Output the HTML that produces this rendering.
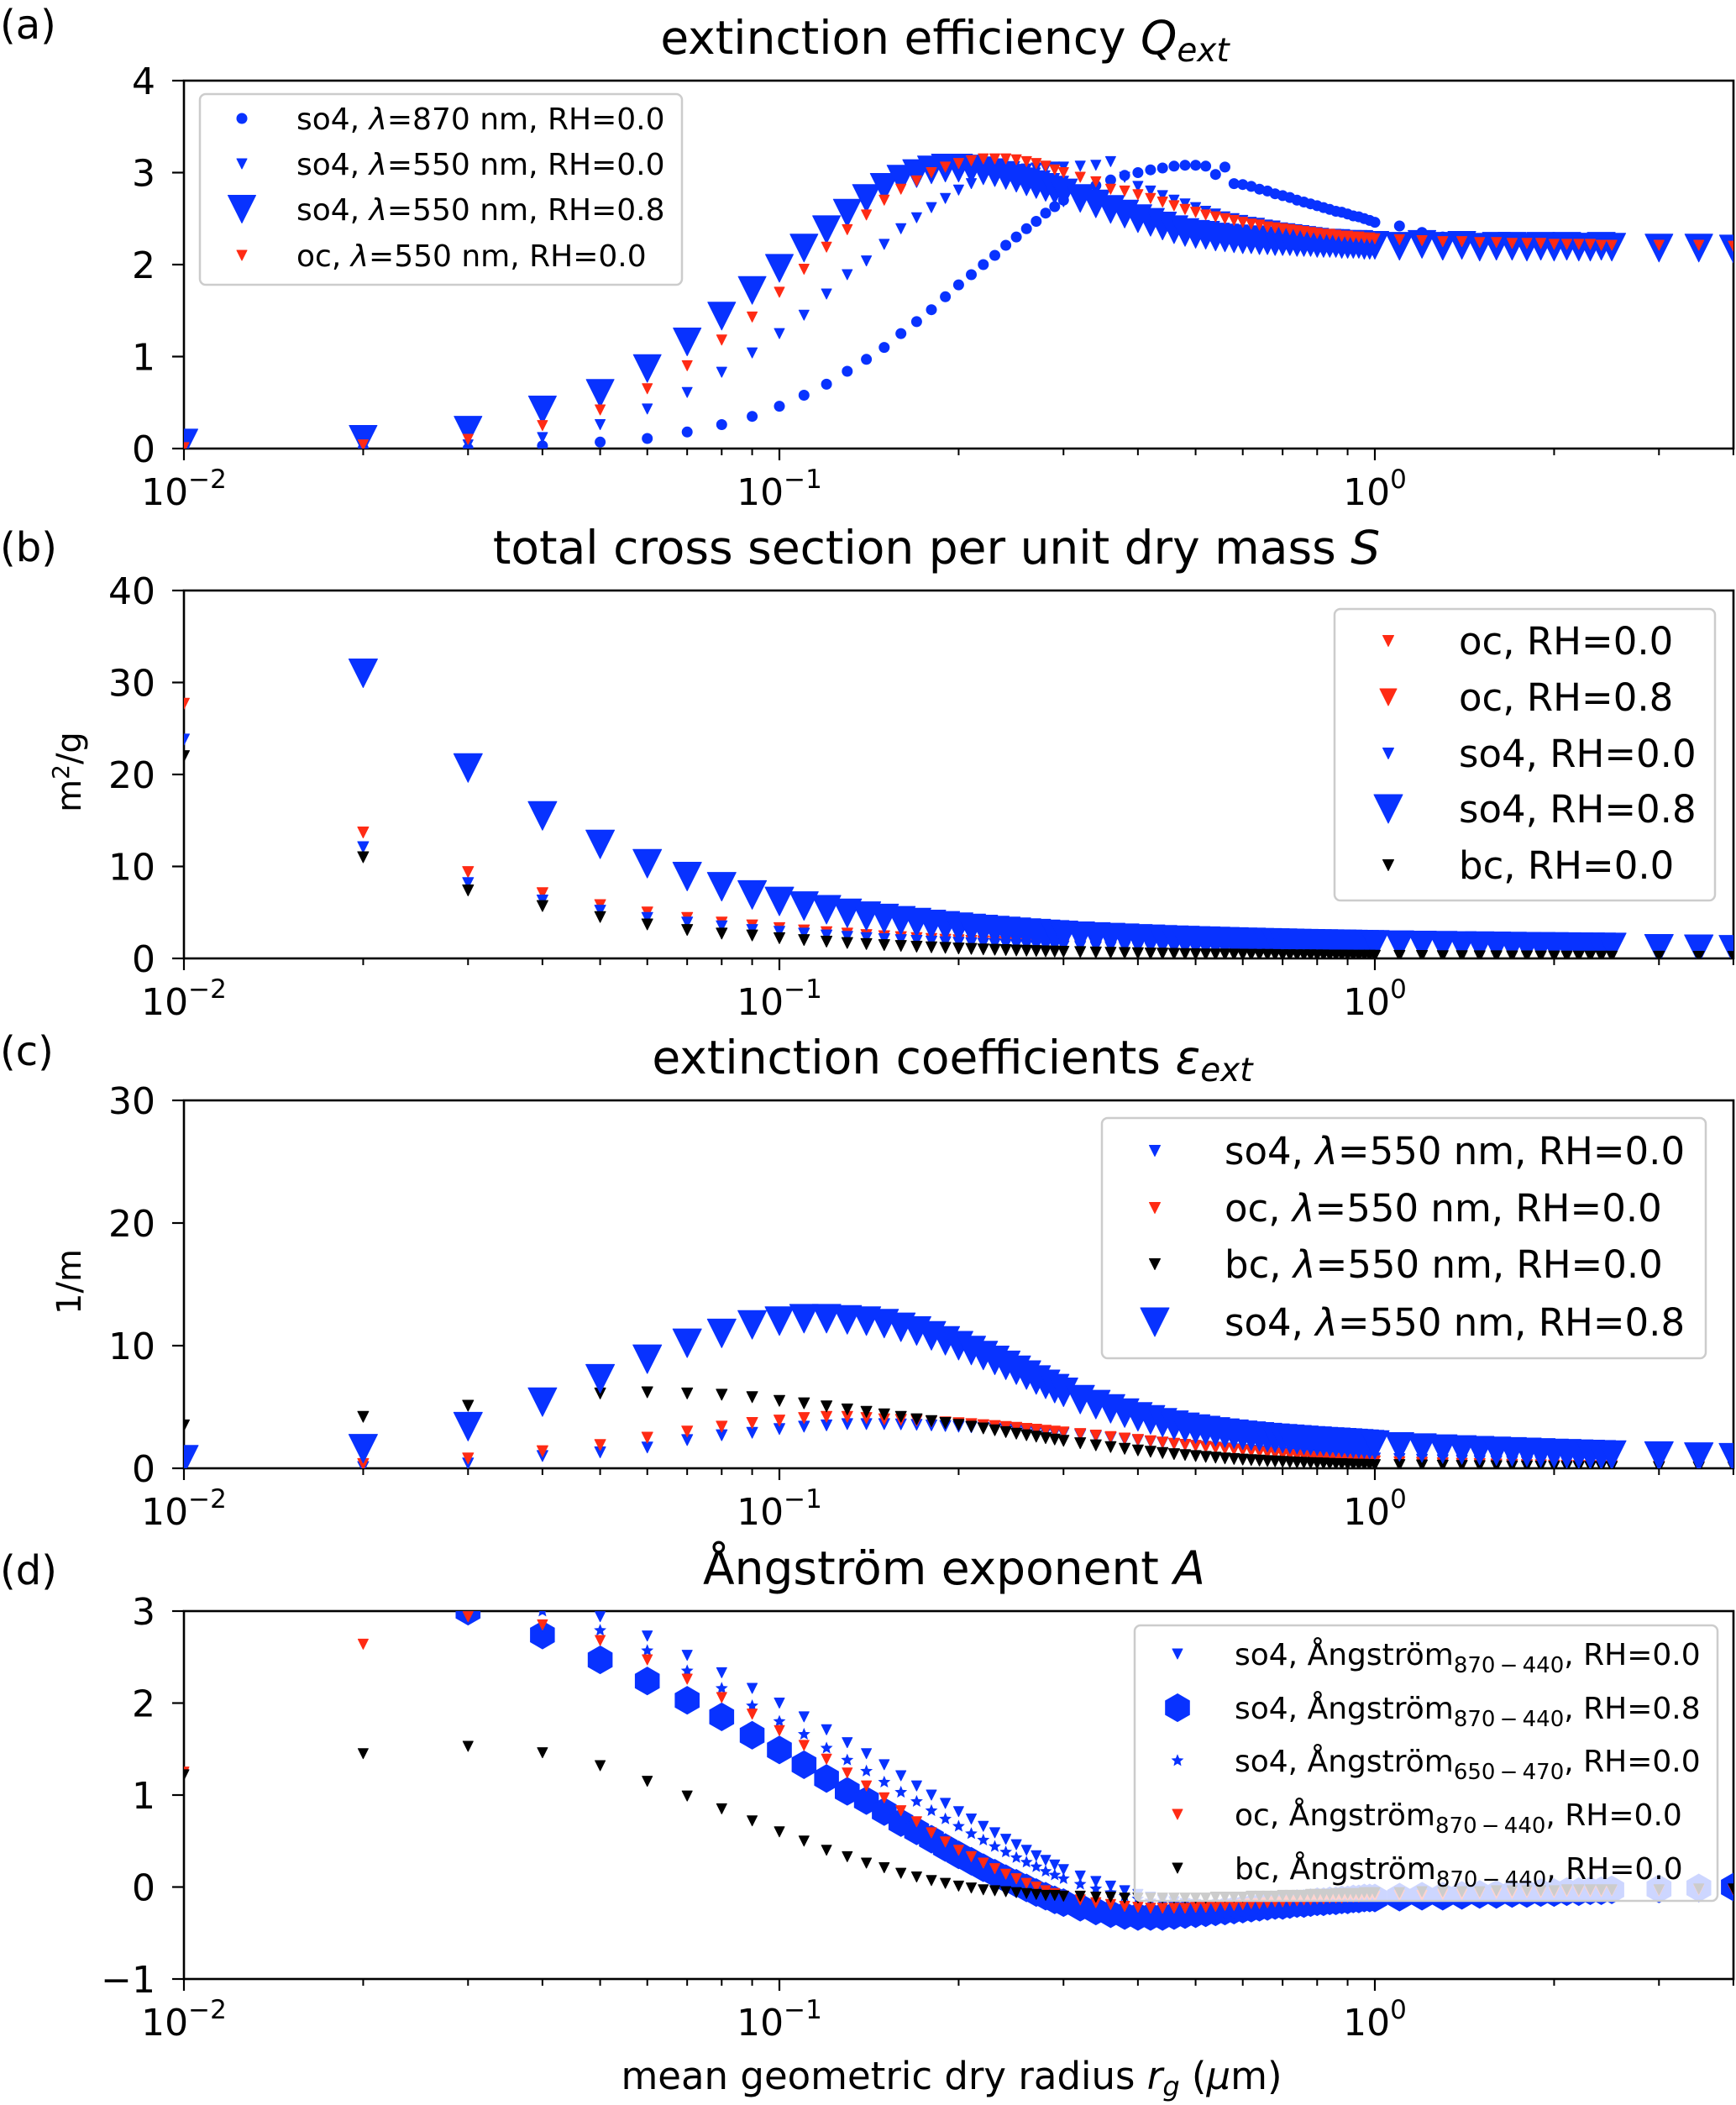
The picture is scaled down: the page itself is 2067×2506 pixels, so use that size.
<!DOCTYPE html>
<html><head><meta charset="utf-8"><title>Aerosol optical properties</title>
<style>
html,body{margin:0;padding:0;background:#fff;}
svg{display:block;font-family:"DejaVu Sans","Liberation Sans",sans-serif;}
</style></head>
<body>
<svg id="fig" xmlns="http://www.w3.org/2000/svg" width="2067" height="2506" viewBox="0 0 2067 2506">
<rect x="0" y="0" width="2067" height="2506" fill="#fff"/>
<defs>
<clipPath id="clipa"><rect x="219" y="96" width="1845" height="438"/></clipPath>
<clipPath id="clipb"><rect x="219" y="703" width="1845" height="438"/></clipPath>
<clipPath id="clipc"><rect x="219" y="1310" width="1845" height="438"/></clipPath>
<clipPath id="clipd"><rect x="219" y="1918" width="1845" height="438"/></clipPath>
</defs>
<g font-size="48" fill="#000">
<text x="0" y="46">(a)</text>
<text x="0" y="668">(b)</text>
<text x="0" y="1268">(c)</text>
<text x="0" y="1886">(d)</text>
</g>
<g font-size="55" fill="#000" text-anchor="middle">
<text x="1125" y="64">extinction efficiency <tspan font-style="italic">Q</tspan><tspan font-style="italic" font-size="39" dy="9">ext</tspan></text>
<text x="1115" y="671">total cross section per unit dry mass <tspan font-style="italic">S</tspan></text>
<text x="1134" y="1278">extinction coefficients <tspan font-style="italic">ε</tspan><tspan font-style="italic" font-size="39" dy="9">ext</tspan></text>
<text x="1136" y="1886">Ångström exponent <tspan font-style="italic">A</tspan></text>
</g>
<text transform="translate(96,919) rotate(-90)" font-size="40" text-anchor="middle">m<tspan font-size="28" dy="-14">2</tspan><tspan dy="14">/g</tspan></text>
<text transform="translate(96,1526) rotate(-90)" font-size="40" text-anchor="middle">1/m</text>
<text x="1133" y="2487" font-size="45" text-anchor="middle">mean geometric dry radius <tspan font-style="italic">r</tspan><tspan font-style="italic" font-size="32" dy="8">g</tspan><tspan dy="-8"> (</tspan><tspan font-style="italic">μ</tspan>m)</text>
<g id="axes"></g>
<g id="marks"></g>
<g id="legends"></g>
</svg>
<script>
// ---------- data ----------
const radius = [0.01,0.02,0.03,0.04,0.05,0.06,0.07,0.08,0.09,0.10,
0.11,0.12,0.13,0.14,0.15,0.16,0.17,0.18,0.19,0.20,0.21,0.22,0.23,0.24,0.25,0.26,0.27,0.28,0.29,0.30,
0.32,0.34,0.36,0.38,0.40,0.42,0.44,0.46,0.48,0.50,0.52,0.54,0.56,0.58,0.60,0.62,0.64,0.66,0.68,0.70,0.72,0.74,0.76,0.78,0.80,0.82,0.84,0.86,0.88,0.90,0.92,0.94,0.96,0.98,1.00,
1.1,1.2,1.3,1.4,1.5,1.6,1.7,1.8,1.9,2.0,2.1,2.2,2.3,2.4,2.5,
3.0,3.5,4.0];

// (a) extinction efficiency
const qextSo4_870_rh0 = [0,0,0,0.03,0.07,0.11,0.18,0.26,0.35,0.46,
0.58,0.70,0.84,0.97,1.10,1.25,1.38,1.51,1.65,1.78,1.89,2.00,2.10,2.21,2.30,2.39,2.47,2.56,2.63,2.70,
2.78,2.86,2.92,2.97,3.0,3.03,3.05,3.07,3.08,3.08,3.07,2.98,3.06,2.88,2.87,2.85,2.82,2.8,2.77,2.75,2.73,2.7,2.68,2.66,2.64,2.62,2.6,2.58,2.57,2.55,2.53,2.52,2.5,2.48,2.46,
2.42,2.35,2.3,2.28,2.26,2.25,2.24,2.23,2.22,2.22,2.21,2.21,2.2,2.2,2.2,
2.2,2.2,2.2];
const qextSo4_550_rh0 = [0.0,0.01,0.04,0.12,0.26,0.43,0.61,0.83,1.04,1.25,
1.45,1.68,1.89,2.04,2.22,2.39,2.51,2.62,2.72,2.81,2.88,2.94,2.98,3.01,3.03,3.04,3.05,3.05,3.06,3.06,
3.07,3.08,3.12,2.95,2.85,2.8,2.75,2.7,2.66,2.62,2.58,2.55,2.52,2.5,2.48,2.46,2.45,2.43,2.42,2.4,2.39,2.38,2.37,2.36,2.35,2.34,2.33,2.33,2.32,2.31,2.31,2.3,2.3,2.29,2.29,
2.28,2.26,2.25,2.24,2.24,2.23,2.23,2.22,2.22,2.22,2.21,2.21,2.21,2.21,2.2,
2.2,2.2,2.2];
const qextSo4_550_rh8 = [0.06,0.10,0.20,0.42,0.60,0.87,1.16,1.44,1.72,1.96,
2.18,2.38,2.56,2.72,2.84,2.93,2.99,3.03,3.05,3.05,3.04,3.02,3.0,2.97,2.94,2.9,2.87,2.84,2.81,2.78,
2.72,2.66,2.6,2.55,2.5,2.46,2.42,2.38,2.35,2.33,2.32,2.3,2.29,2.28,2.27,2.27,2.26,2.26,2.25,2.25,2.25,2.24,2.24,2.24,2.23,2.23,2.23,2.23,2.22,2.22,2.22,2.22,2.21,2.21,2.21,
2.2,2.22,2.2,2.21,2.19,2.2,2.2,2.19,2.2,2.19,2.2,2.19,2.19,2.2,2.19,
2.18,2.18,2.17];
const qextOc_550_rh0 = [0.01,0.04,0.10,0.25,0.42,0.65,0.90,1.18,1.43,1.70,
1.95,2.19,2.38,2.54,2.70,2.82,2.91,3.0,3.06,3.1,3.13,3.15,3.15,3.15,3.14,3.12,3.1,3.07,3.03,3.0,
2.95,2.9,2.82,2.8,2.76,2.72,2.68,2.64,2.6,2.57,2.54,2.52,2.5,2.48,2.46,2.44,2.43,2.41,2.4,2.39,2.38,2.37,2.36,2.35,2.34,2.33,2.33,2.32,2.31,2.31,2.3,2.3,2.29,2.29,2.28,
2.27,2.26,2.25,2.25,2.24,2.24,2.23,2.23,2.23,2.22,2.22,2.22,2.22,2.21,2.21,
2.21,2.21,2.2];

// (b) total cross section per unit dry mass
const sOc_rh0 = [27.7,13.7,9.4,7.1,5.8,5.0,4.4,3.9,3.6,3.3,
3.05,2.85,2.7,2.55,2.42,2.32,2.22,2.13,2.05,1.98,1.92,1.86,1.8,1.75,1.7,1.65,1.6,1.56,1.52,1.48,
1.42,1.36,1.31,1.27,1.23,1.19,1.16,1.13,1.10,1.07,1.05,1.03,1.01,0.99,0.97,0.95,0.94,0.92,0.91,0.9,0.88,0.87,0.86,0.85,0.84,0.83,0.82,0.81,0.80,0.79,0.79,0.78,0.77,0.77,0.76,
0.74,0.72,0.7,0.69,0.68,0.67,0.66,0.65,0.64,0.64,0.63,0.63,0.62,0.62,0.61,
0.6,0.59,0.58];
const sOc_rh8 = [60,30.5,20.3,15.2,12.1,10.1,8.7,7.6,6.7,6.0,
5.5,5.1,4.75,4.45,4.2,3.97,3.77,3.58,3.43,3.29,3.16,3.05,2.94,2.85,2.76,2.68,2.61,2.55,2.49,2.43,
2.35,2.27,2.2,2.13,2.07,2.02,1.97,1.93,1.89,1.85,1.82,1.79,1.76,1.73,1.71,1.69,1.67,1.65,1.63,1.61,1.59,1.58,1.56,1.55,1.53,1.52,1.51,1.5,1.49,1.48,1.47,1.46,1.45,1.44,1.43,
1.4,1.37,1.34,1.32,1.3,1.28,1.26,1.24,1.23,1.21,1.2,1.19,1.18,1.17,1.16,
1.02,0.97,0.92];
const sSo4_rh0 = [23.8,12.1,8.2,6.3,5.2,4.4,3.9,3.5,3.1,2.9,
2.7,2.5,2.35,2.22,2.1,2.0,1.92,1.84,1.77,1.71,1.65,1.6,1.55,1.5,1.46,1.42,1.39,1.36,1.33,1.3,
1.26,1.22,1.19,1.16,1.13,1.1,1.08,1.06,1.04,1.02,1.0,0.99,0.97,0.96,0.95,0.94,0.93,0.92,0.91,0.9,0.89,0.88,0.87,0.87,0.86,0.85,0.85,0.84,0.84,0.83,0.83,0.82,0.82,0.81,0.81,
0.8,0.78,0.77,0.76,0.75,0.74,0.73,0.72,0.72,0.71,0.71,0.7,0.7,0.7,0.69,
0.68,0.67,0.66];
const sSo4_rh8 = [62,31.0,20.7,15.5,12.4,10.3,8.9,7.8,6.9,6.2,
5.7,5.3,4.9,4.6,4.35,4.1,3.9,3.7,3.55,3.4,3.27,3.15,3.04,2.94,2.85,2.77,2.7,2.63,2.57,2.51,
2.42,2.34,2.27,2.2,2.14,2.09,2.04,1.99,1.95,1.91,1.88,1.85,1.82,1.79,1.76,1.74,1.72,1.7,1.68,1.66,1.64,1.63,1.61,1.6,1.58,1.57,1.56,1.55,1.54,1.53,1.52,1.51,1.5,1.49,1.48,
1.45,1.42,1.39,1.36,1.34,1.32,1.3,1.28,1.27,1.25,1.24,1.23,1.22,1.21,1.2,
1.05,1.0,0.95];
const sBc_rh0 = [22.0,11.0,7.4,5.7,4.5,3.7,3.1,2.7,2.5,2.2,
2.0,1.83,1.68,1.56,1.45,1.36,1.28,1.21,1.15,1.09,1.04,0.99,0.95,0.91,0.87,0.84,0.81,0.78,0.75,0.73,
0.69,0.65,0.62,0.59,0.57,0.54,0.52,0.5,0.48,0.47,0.45,0.44,0.43,0.42,0.41,0.4,0.39,0.38,0.37,0.36,0.36,0.35,0.34,0.34,0.33,0.33,0.32,0.32,0.31,0.31,0.3,0.3,0.3,0.29,0.29,
0.28,0.27,0.26,0.25,0.24,0.24,0.23,0.23,0.22,0.22,0.21,0.21,0.21,0.2,0.2,
0.19,0.18,0.17];

// (c) extinction coefficients
const eSo4_rh0 = [0.0,0.1,0.4,1.0,1.3,1.7,2.3,2.7,2.9,3.2,
3.4,3.5,3.6,3.6,3.6,3.58,3.55,3.5,3.45,3.4,3.35,3.3,3.24,3.18,3.12,3.06,3.0,2.95,2.9,2.85,
2.72,2.6,2.48,2.37,2.27,2.17,2.08,1.99,1.91,1.83,1.76,1.69,1.62,1.56,1.5,1.44,1.39,1.34,1.29,1.24,1.2,1.16,1.12,1.08,1.05,1.02,0.99,0.96,0.93,0.9,0.88,0.86,0.84,0.82,0.8,
0.75,0.7,0.66,0.62,0.59,0.56,0.53,0.51,0.49,0.47,0.45,0.43,0.42,0.4,0.39,
0.33,0.29,0.26];
const eOc_rh0 = [0.0,0.35,0.8,1.4,1.9,2.5,3.0,3.4,3.7,3.9,
4.1,4.2,4.2,4.1,4.0,3.95,3.9,3.82,3.75,3.68,3.6,3.52,3.45,3.37,3.3,3.22,3.15,3.07,3.0,2.93,
2.8,2.67,2.55,2.43,2.32,2.21,2.11,2.01,1.92,1.83,1.75,1.67,1.59,1.52,1.45,1.38,1.32,1.26,1.2,1.14,1.09,1.04,0.99,0.94,0.9,0.86,0.82,0.78,0.74,0.71,0.68,0.65,0.62,0.59,0.56,
0.5,0.45,0.41,0.37,0.34,0.31,0.29,0.27,0.25,0.23,0.22,0.2,0.19,0.18,0.17,
0.13,0.11,0.09];
const eBc_rh0 = [3.5,4.2,5.1,5.8,6.1,6.2,6.1,6.0,5.8,5.5,
5.3,5.05,4.8,4.6,4.4,4.2,4.0,3.85,3.7,3.55,3.4,3.25,3.1,2.95,2.82,2.7,2.58,2.46,2.35,2.24,
2.05,1.88,1.73,1.59,1.46,1.35,1.25,1.16,1.08,1.0,0.93,0.87,0.81,0.76,0.71,0.67,0.63,0.59,0.56,0.53,0.5,0.47,0.45,0.43,0.41,0.39,0.37,0.35,0.34,0.32,0.31,0.3,0.29,0.28,0.27,
0.27,0.24,0.22,0.2,0.18,0.17,0.16,0.15,0.14,0.13,0.12,0.11,0.11,0.1,0.1,
0.08,0.07,0.06];
const eSo4_rh8 = [0.7,1.6,3.4,5.4,7.3,8.9,10.2,11.0,11.7,12.0,
12.2,12.2,12.1,12.0,11.8,11.5,11.2,10.8,10.4,10.0,9.6,9.2,8.8,8.4,8.0,7.6,7.2,6.85,6.5,6.2,
5.6,5.2,4.85,4.5,4.2,3.95,3.72,3.52,3.35,3.2,3.08,2.97,2.87,2.78,2.7,2.63,2.57,2.51,2.46,2.41,2.37,2.33,2.29,2.25,2.22,2.18,2.15,2.12,2.09,2.06,2.03,2.0,1.97,1.94,1.9,
1.75,1.65,1.57,1.5,1.44,1.39,1.34,1.3,1.26,1.22,1.19,1.16,1.13,1.1,1.08,
1.0,0.92,0.86];

// (d) Angstrom exponent
const aSo4_870_rh0 = [3.6,3.5,3.3,3.15,2.94,2.73,2.52,2.33,2.16,2.0,
1.85,1.71,1.57,1.45,1.33,1.21,1.1,1.0,0.91,0.82,0.74,0.66,0.59,0.52,0.46,0.4,0.34,0.29,0.24,0.19,
0.12,0.06,0.01,-0.04,-0.08,-0.11,-0.14,-0.16,-0.18,-0.19,-0.2,-0.2,-0.2,-0.2,-0.19,-0.19,-0.18,-0.18,-0.17,-0.17,-0.16,-0.16,-0.15,-0.15,-0.14,-0.14,-0.13,-0.13,-0.13,-0.12,-0.12,-0.12,-0.11,-0.11,-0.11,
-0.1,-0.1,-0.09,-0.09,-0.08,-0.08,-0.08,-0.07,-0.07,-0.07,-0.06,-0.06,-0.06,-0.06,-0.05,
-0.05,-0.04,-0.04];
const aSo4_870_rh8 = [3.6,3.3,3.0,2.74,2.47,2.24,2.03,1.85,1.65,1.49,
1.33,1.18,1.04,0.94,0.82,0.7,0.61,0.52,0.43,0.35,0.28,0.21,0.15,0.09,0.04,-0.01,-0.06,-0.1,-0.14,-0.17,
-0.22,-0.26,-0.29,-0.31,-0.32,-0.32,-0.32,-0.31,-0.3,-0.29,-0.28,-0.27,-0.26,-0.25,-0.24,-0.23,-0.22,-0.21,-0.2,-0.2,-0.19,-0.18,-0.18,-0.17,-0.16,-0.16,-0.15,-0.15,-0.14,-0.14,-0.13,-0.13,-0.12,-0.12,-0.12,
-0.11,-0.1,-0.1,-0.09,-0.08,-0.08,-0.07,-0.07,-0.06,-0.06,-0.05,-0.05,-0.04,-0.04,-0.03,
-0.02,-0.01,0.0];
const aSo4_650_rh0 = [3.3,3.2,3.1,3.0,2.79,2.57,2.35,2.16,1.97,1.8,
1.66,1.51,1.38,1.26,1.14,1.03,0.93,0.83,0.74,0.66,0.58,0.51,0.44,0.38,0.32,0.27,0.22,0.17,0.13,0.09,
0.03,-0.02,-0.06,-0.1,-0.13,-0.15,-0.17,-0.18,-0.19,-0.2,-0.2,-0.2,-0.19,-0.19,-0.18,-0.18,-0.17,-0.17,-0.16,-0.16,-0.15,-0.15,-0.14,-0.14,-0.14,-0.13,-0.13,-0.13,-0.12,-0.12,-0.12,-0.11,-0.11,-0.11,-0.1,
-0.1,-0.09,-0.09,-0.08,-0.08,-0.07,-0.07,-0.07,-0.06,-0.06,-0.06,-0.05,-0.05,-0.05,-0.05,
-0.04,-0.03,-0.03];
const aOc_870_rh0 = [1.25,2.64,2.94,2.85,2.68,2.47,2.26,2.06,1.88,1.7,
1.54,1.39,1.24,1.1,0.97,0.83,0.71,0.59,0.49,0.4,0.33,0.26,0.2,0.14,0.09,0.04,0.0,-0.04,-0.07,-0.1,
-0.14,-0.17,-0.19,-0.21,-0.22,-0.23,-0.23,-0.23,-0.23,-0.22,-0.22,-0.21,-0.2,-0.2,-0.19,-0.18,-0.18,-0.17,-0.16,-0.16,-0.15,-0.15,-0.14,-0.14,-0.13,-0.13,-0.12,-0.12,-0.12,-0.11,-0.11,-0.11,-0.1,-0.1,-0.1,
-0.09,-0.09,-0.08,-0.08,-0.07,-0.07,-0.07,-0.06,-0.06,-0.06,-0.05,-0.05,-0.05,-0.05,-0.04,
-0.04,-0.03,-0.03];
const aBc_870_rh0 = [1.22,1.45,1.53,1.46,1.32,1.15,0.99,0.85,0.72,0.6,
0.5,0.4,0.33,0.26,0.21,0.15,0.11,0.07,0.04,0.01,-0.01,-0.03,-0.04,-0.05,-0.06,-0.07,-0.08,-0.09,-0.09,-0.1,
-0.1,-0.11,-0.11,-0.12,-0.12,-0.12,-0.12,-0.12,-0.12,-0.12,-0.12,-0.11,-0.11,-0.11,-0.11,-0.1,-0.1,-0.1,-0.1,-0.09,-0.09,-0.09,-0.09,-0.08,-0.08,-0.08,-0.08,-0.07,-0.07,-0.07,-0.07,-0.07,-0.06,-0.06,-0.06,
-0.06,-0.05,-0.05,-0.05,-0.05,-0.04,-0.04,-0.04,-0.04,-0.04,-0.03,-0.03,-0.03,-0.03,-0.03,
-0.03,-0.02,-0.02];

const yTicksA = [0,1,2,3,4];
const yTicksB = [0,10,20,30,40];
const yTicksC = [0,10,20,30];
const yTicksD = [-1,0,1,2,3];
const xTickExps = [-2,-1,0];

// ---------- geometry ----------
const NS = 'http://www.w3.org/2000/svg';
const L = 219, R = 2064, DEC = 709;
const BLUE = '#0832ff', RED = '#ff2b14', BLACK = '#000';
const panels = {
  a:{top:96,bottom:534,ymin:0,ymax:4,ticks:yTicksA},
  b:{top:703,bottom:1141,ymin:0,ymax:40,ticks:yTicksB},
  c:{top:1310,bottom:1748,ymin:0,ymax:30,ticks:yTicksC},
  d:{top:1918,bottom:2356,ymin:-1,ymax:3,ticks:yTicksD}
};
function px(x){ return L + DEC*(Math.log10(x)+2); }
function py(p,v){ return p.bottom - (v-p.ymin)/(p.ymax-p.ymin)*(p.bottom-p.top); }
function mk(tag, attrs, parent){
  const e = document.createElementNS(NS, tag);
  for (const k in attrs) e.setAttribute(k, attrs[k]);
  parent.appendChild(e);
  return e;
}
function shape(kind, x, y, s, color, parent){
  let el;
  if (kind === 'o'){
    el = mk('circle',{cx:x.toFixed(1),cy:y.toFixed(1),r:(s/2).toFixed(1),fill:color},parent);
  } else if (kind === 'v'){
    const h = s/2;
    el = mk('polygon',{points:`${(x-h).toFixed(1)},${(y-h).toFixed(1)} ${(x+h).toFixed(1)},${(y-h).toFixed(1)} ${x.toFixed(1)},${(y+h).toFixed(1)}`,fill:color,stroke:color,'stroke-width':1,'stroke-linejoin':'round'},parent);
  } else if (kind === 'h'){
    const r = s/2; let pts=[];
    for (let k=0;k<6;k++){ const a=(90+60*k)*Math.PI/180; pts.push((x+r*Math.cos(a)).toFixed(1)+','+(y-r*Math.sin(a)).toFixed(1)); }
    el = mk('polygon',{points:pts.join(' '),fill:color,stroke:color,'stroke-width':1},parent);
  } else if (kind === '*'){
    const r = s/2, ri = r*0.45; let pts=[];
    for (let k=0;k<10;k++){ const rr = k%2?ri:r; const a=(90+36*k)*Math.PI/180; pts.push((x+rr*Math.cos(a)).toFixed(1)+','+(y-rr*Math.sin(a)).toFixed(1)); }
    el = mk('polygon',{points:pts.join(' '),fill:color,stroke:color,'stroke-width':1},parent);
  }
  return el;
}

// ---------- axes ----------
const axesG = document.getElementById('axes');
for (const key in panels){
  const p = panels[key];
  const g = mk('g',{},axesG);
  
  
  for (let e=-2;e<=0;e++){
    for (let k=2;k<=9;k++){
      const v = k*Math.pow(10,e);
      if (v>4.001) continue;
      const t = mk('line',{x1:px(v),x2:px(v),y1:p.bottom,y2:p.bottom+8,stroke:'#000','stroke-width':2},g);
      
      
    }
  }
  xTickExps.forEach(e => {
    const x = px(Math.pow(10,e));
    const t = mk('line',{x1:x,x2:x,y1:p.bottom,y2:p.bottom+14,stroke:'#000','stroke-width':2.2},g);
    
    
    const tx = mk('text',{x:x,y:p.bottom+67,'font-size':44,'text-anchor':'middle'},g);
    
    
    const s1 = mk('tspan',{},tx); s1.textContent = '10';
    const s2 = mk('tspan',{'font-size':31,dy:-20},tx); s2.textContent = (e<0?'\u2212':'') + Math.abs(e);
  });
  p.ticks.forEach(v => {
    const y = py(p,v);
    const t = mk('line',{x1:L-14,x2:L,y1:y,y2:y,stroke:'#000','stroke-width':2.2},g);
    
    
    const tx = mk('text',{x:185,y:y+16,'font-size':44,'text-anchor':'end'},g);
    
    
    tx.textContent = (v<0?'\u2212':'') + Math.abs(v);
  });
  const fr = mk('rect',{x:L,y:p.top,width:R-L,height:p.bottom-p.top,fill:'none',stroke:'#000','stroke-width':2.6},g);
  
  
}

// ---------- series ----------
const marksG = document.getElementById('marks');
function drawSeries(panelKey, values, kind, size, color, name){
  const p = panels[panelKey];
  const g = mk('g',{'clip-path':'url(#clip'+panelKey+')'},marksG);
  
  
  const n = Math.min(radius.length, values.length);
  for (let i=0;i<n;i++){
    const v = values[i];
    if (v === null || v === undefined) continue;
    const el = shape(kind, px(radius[i]), py(p,v), size, color, g);
    
    
  }
}
drawSeries('a', qextSo4_870_rh0, 'o', 13, BLUE, 'series-a-so4-870-rh0');
drawSeries('a', qextSo4_550_rh0, 'v', 12, BLUE, 'series-a-so4-550-rh0');
drawSeries('a', qextSo4_550_rh8, 'v', 33, BLUE, 'series-a-so4-550-rh08');
drawSeries('a', qextOc_550_rh0, 'v', 12, RED, 'series-a-oc-550-rh0');

drawSeries('b', sOc_rh0, 'v', 13, RED, 'series-b-oc-rh0');
drawSeries('b', sOc_rh8, 'v', 20, RED, 'series-b-oc-rh08');
drawSeries('b', sSo4_rh0, 'v', 13, BLUE, 'series-b-so4-rh0');
drawSeries('b', sSo4_rh8, 'v', 34, BLUE, 'series-b-so4-rh08');
drawSeries('b', sBc_rh0, 'v', 13, BLACK, 'series-b-bc-rh0');

drawSeries('c', eSo4_rh0, 'v', 13, BLUE, 'series-c-so4-rh0');
drawSeries('c', eOc_rh0, 'v', 13, RED, 'series-c-oc-rh0');
drawSeries('c', eBc_rh0, 'v', 13, BLACK, 'series-c-bc-rh0');
drawSeries('c', eSo4_rh8, 'v', 34, BLUE, 'series-c-so4-rh08');

drawSeries('d', aSo4_870_rh0, 'v', 12, BLUE, 'series-d-so4-870-440-rh0');
drawSeries('d', aSo4_870_rh8, 'h', 33, BLUE, 'series-d-so4-870-440-rh08');
drawSeries('d', aSo4_650_rh0, '*', 13, BLUE, 'series-d-so4-650-470-rh0');
drawSeries('d', aOc_870_rh0, 'v', 12, RED, 'series-d-oc-870-440-rh0');
drawSeries('d', aBc_870_rh0, 'v', 12, BLACK, 'series-d-bc-870-440-rh0');

// ---------- legends ----------
const legG = document.getElementById('legends');
function legend(name, box, mx, tx, fs, rows){
  const g = mk('g',{},legG);
  
  
  const r = mk('rect',{x:box[0],y:box[1],width:box[2]-box[0],height:box[3]-box[1],rx:7,fill:'rgba(255,255,255,0.8)',stroke:'#cccccc','stroke-width':2.5},g);
  
  
  rows.forEach(row => {
    const m = shape(row.kind, mx, row.y, row.size, row.color, g);
    
    
    const t = mk('text',{x:tx,y:row.y+fs*0.36,'font-size':fs},g);
    
    
    row.parts.forEach(pt => {
      const s = mk('tspan',pt.a||{},t);
      s.textContent = pt.t;
    });
  });
}
const lam = (a,b) => [{t:a},{t:'\u03bb',a:{'font-style':'italic'}},{t:b}];
legend('legend-a',[238,112,812,339],288,353,36,[
  {y:141,kind:'o',size:13,color:BLUE,parts:lam('so4, ','=870 nm, RH=0.0')},
  {y:195,kind:'v',size:12,color:BLUE,parts:lam('so4, ','=550 nm, RH=0.0')},
  {y:249,kind:'v',size:33,color:BLUE,parts:lam('so4, ','=550 nm, RH=0.8')},
  {y:304,kind:'v',size:12,color:RED,parts:lam('oc, ','=550 nm, RH=0.0')}
]);
legend('legend-b',[1589,725,2042,1072],1653,1737,45,[
  {y:763,kind:'v',size:13,color:RED,parts:[{t:'oc, RH=0.0'}]},
  {y:830,kind:'v',size:20,color:RED,parts:[{t:'oc, RH=0.8'}]},
  {y:897,kind:'v',size:13,color:BLUE,parts:[{t:'so4, RH=0.0'}]},
  {y:963,kind:'v',size:34,color:BLUE,parts:[{t:'so4, RH=0.8'}]},
  {y:1030,kind:'v',size:13,color:BLACK,parts:[{t:'bc, RH=0.0'}]}
]);
legend('legend-c',[1312,1331,2031,1617],1375,1458,45,[
  {y:1370,kind:'v',size:13,color:BLUE,parts:lam('so4, ','=550 nm, RH=0.0')},
  {y:1438,kind:'v',size:13,color:RED,parts:lam('oc, ','=550 nm, RH=0.0')},
  {y:1505,kind:'v',size:13,color:BLACK,parts:lam('bc, ','=550 nm, RH=0.0')},
  {y:1574,kind:'v',size:34,color:BLUE,parts:lam('so4, ','=550 nm, RH=0.8')}
]);
const ang = (a,sub,b) => [{t:a+'Ångström'},{t:sub,a:{'font-size':26,dy:9}},{t:', '+b,a:{dy:-9}}];
legend('legend-d',[1351,1935,2045,2263],1402,1470,36,[
  {y:1969,kind:'v',size:12,color:BLUE,parts:ang('so4, ','870\u2009\u2212\u2009440','RH=0.0')},
  {y:2033,kind:'h',size:33,color:BLUE,parts:ang('so4, ','870\u2009\u2212\u2009440','RH=0.8')},
  {y:2096,kind:'*',size:13,color:BLUE,parts:ang('so4, ','650\u2009\u2212\u2009470','RH=0.0')},
  {y:2160,kind:'v',size:12,color:RED,parts:ang('oc, ','870\u2009\u2212\u2009440','RH=0.0')},
  {y:2224,kind:'v',size:12,color:BLACK,parts:ang('bc, ','870\u2009\u2212\u2009440','RH=0.0')}
]);
</script>
</body></html>
